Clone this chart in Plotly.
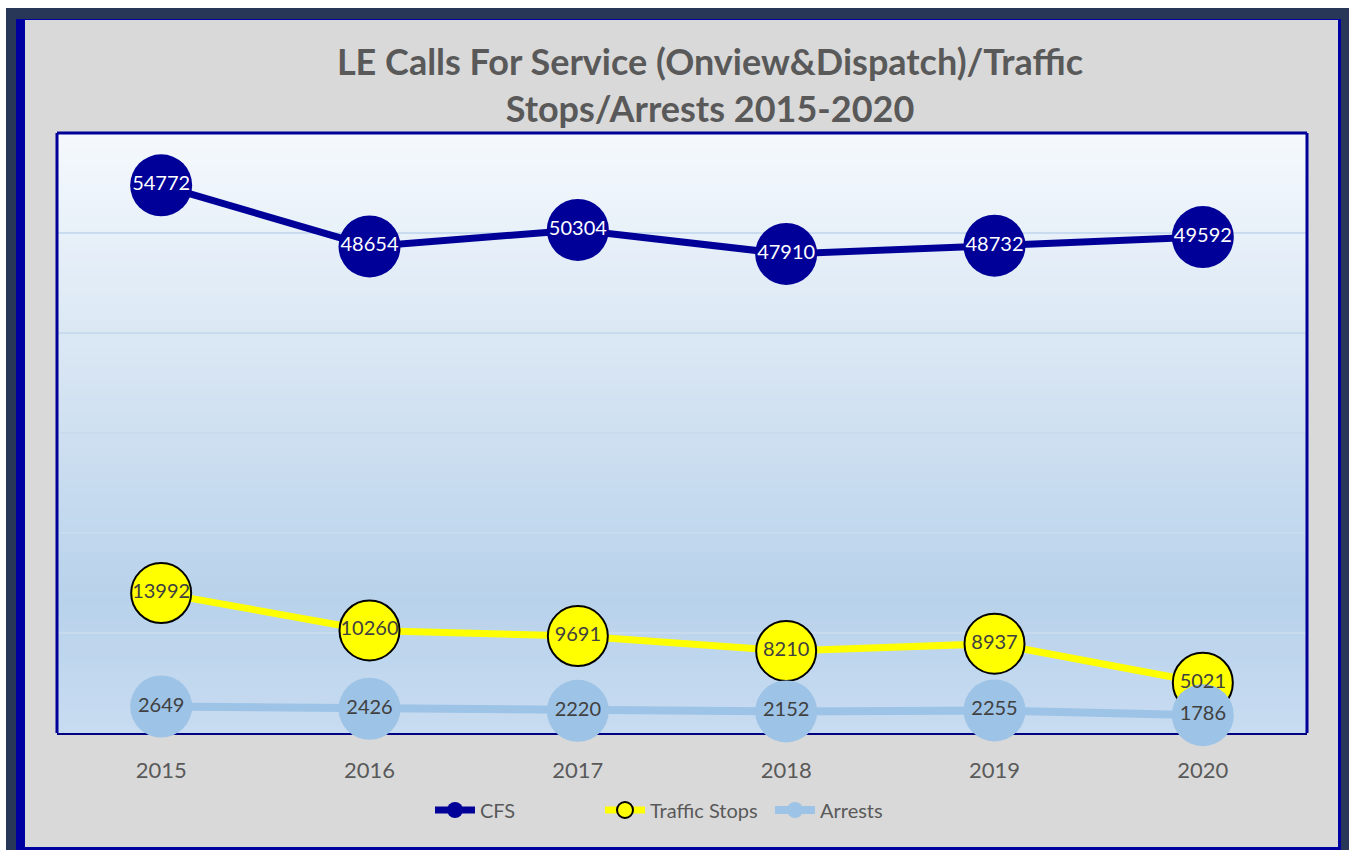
import plotly.graph_objects as go

years = ["2015", "2016", "2017", "2018", "2019", "2020"]
cfs = [54772, 48654, 50304, 47910, 48732, 49592]
traffic = [13992, 10260, 9691, 8210, 8937, 5021]
arrests = [2649, 2426, 2220, 2152, 2255, 1786]

W, H = 1349, 850
L, R, T, B = 57, 1307, 133, 733  # plot area pixels

def px_x(p):
    return (p - L) / (R - L)

def px_y(p):
    return (B - p) / (B - T)

FONT = "Lato"
NAVY = "#000099"
YELLOW = "#FFFF00"
LBLUE = "#9DC3E6"
GRAYTXT = "#595959"

fig = go.Figure()

series = [
    ("CFS", cfs, NAVY, dict(color=NAVY, size=62, line=dict(width=0)), 7, "white"),
    ("Traffic Stops", traffic, YELLOW,
     dict(color=YELLOW, size=60, line=dict(color="black", width=2)), 7, "#404040"),
    ("Arrests", arrests, LBLUE, dict(color=LBLUE, size=62, line=dict(width=0)), 8, "#404040"),
]

for name, vals, col, mk, lw, tc in series:
    fig.add_trace(go.Scatter(
        x=years, y=vals, name=name, mode="lines+markers",
        line=dict(color=col, width=lw), marker=mk, cliponaxis=False,
        hoverinfo="x+y",
    ))
for name, vals, col, mk, lw, tc in series:
    fig.add_trace(go.Scatter(
        x=years, y=vals, mode="text", text=[str(v) for v in vals],
        textposition="middle center", textfont=dict(family=FONT, size=20, color=tc),
        showlegend=False, hoverinfo="skip", cliponaxis=False,
    ))

shapes = []
# outer frame
shapes.append(dict(type="rect", xref="paper", yref="paper", layer="below",
                   x0=px_x(6), x1=px_x(1349), y0=px_y(850), y1=px_y(8),
                   fillcolor="#283658", line=dict(width=0)))
shapes.append(dict(type="rect", xref="paper", yref="paper", layer="below",
                   x0=px_x(16), x1=px_x(1341), y0=px_y(850), y1=px_y(19),
                   fillcolor="#0000A0", line=dict(width=0)))
shapes.append(dict(type="rect", xref="paper", yref="paper", layer="below",
                   x0=px_x(25), x1=px_x(1338), y0=px_y(847), y1=px_y(20),
                   fillcolor="#D9D9D9", line=dict(width=0)))

# gradient plot background
stops = [(0.0, (245, 249, 253)), (0.35, (218, 231, 244)), (0.78, (184, 210, 235)), (1.0, (200, 220, 241))]

def grad(t):
    for (t0, c0), (t1, c1) in zip(stops[:-1], stops[1:]):
        if t0 <= t <= t1:
            f = (t - t0) / (t1 - t0)
            return "rgb(%d,%d,%d)" % tuple(round(a + (b - a) * f) for a, b in zip(c0, c1))
    return "rgb(%d,%d,%d)" % stops[-1][1]

N = 80
for i in range(N):
    t = (i + 0.5) / N
    shapes.append(dict(type="rect", xref="paper", yref="paper", layer="below",
                       x0=0, x1=1, y0=1 - (i + 1) / N - 0.001, y1=1 - i / N,
                       fillcolor=grad(t), line=dict(width=0)))

# plot border: left, top, right
for x0, y0, x1, y1 in [(0, 0, 0, 1), (0, 1, 1, 1), (1, 0, 1, 1)]:
    shapes.append(dict(type="line", xref="paper", yref="paper", layer="above",
                       x0=x0, y0=y0, x1=x1, y1=y1, line=dict(color=NAVY, width=3)))

fig.update_layout(
    width=W, height=H,
    margin=dict(l=L, r=W - R, t=T, b=H - B),
    paper_bgcolor="white",
    plot_bgcolor="rgba(0,0,0,0)",
    shapes=shapes,
    title=dict(
        text="<b>LE Calls For Service (Onview&Dispatch)/Traffic<br>Stops/Arrests 2015-2020</b>",
        font=dict(family=FONT, size=36, color=GRAYTXT),
        x=710 / W, xanchor="center", xref="container",
        y=1 - 75 / H, yanchor="top", yref="container",
    ),
    xaxis=dict(
        type="category", range=[-0.5, 5.5], showgrid=False,
        showline=True, linecolor="#000080", linewidth=1.5, layer="below traces",
        ticks="", ticklabelstandoff=17,
        tickfont=dict(family=FONT, size=22, color=GRAYTXT),
        fixedrange=True,
    ),
    yaxis=dict(
        range=[0, 60000], dtick=10000, showticklabels=False,
        showgrid=True, gridcolor="#C8DBEF", gridwidth=2, zeroline=False,
        showline=False, fixedrange=True,
    ),
    legend=dict(
        orientation="h", x=px_x(685), xanchor="center", y=px_y(810), yanchor="middle",
        font=dict(family=FONT, size=20, color=GRAYTXT), bgcolor="rgba(0,0,0,0)",
        itemwidth=40, entrywidth=115, entrywidthmode="pixels",
    ),
    showlegend=True,
)

fig.write_html("out.html", post_script="document.body.style.margin='0';",
               config={"displayModeBar": False})
